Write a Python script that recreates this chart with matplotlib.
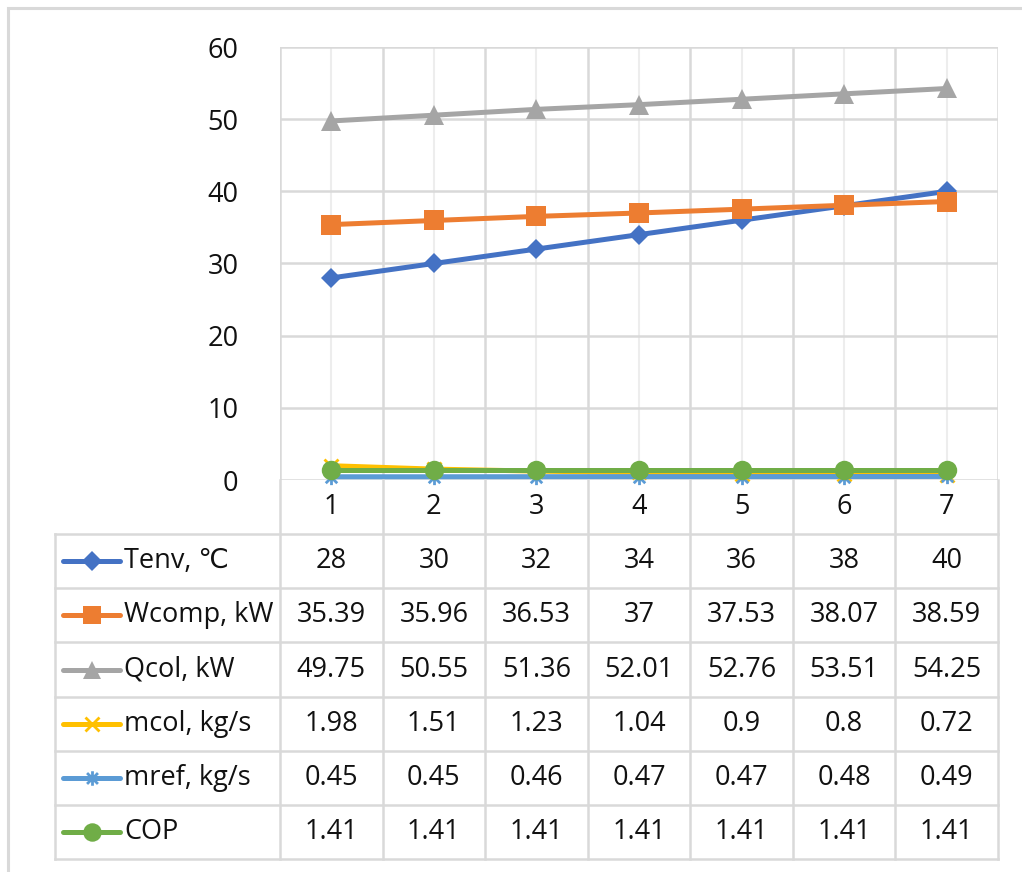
import matplotlib
matplotlib.use("Agg")
import matplotlib.pyplot as plt
from matplotlib.lines import Line2D
from matplotlib.patches import Rectangle
from matplotlib.path import Path

plt.rcParams['font.family'] = ['Open Sans', 'DejaVu Sans']

# данные
cases = [1, 2, 3, 4, 5, 6, 7]
Tenv = [28, 30, 32, 34, 36, 38, 40]
Wcomp = [35.39, 35.96, 36.53, 37, 37.53, 38.07, 38.59]
Qcol = [49.75, 50.55, 51.36, 52.01, 52.76, 53.51, 54.25]
mcol = [1.98, 1.51, 1.23, 1.04, 0.9, 0.8, 0.72]
mref = [0.45, 0.45, 0.46, 0.47, 0.47, 0.48, 0.49]
COP = [1.41, 1.41, 1.41, 1.41, 1.41, 1.41, 1.41]
yticks = [0, 10, 20, 30, 40, 50, 60]

# звёздочка как в Excel: вертикаль + две диагонали
star = Path([(0, -1), (0, 1), (-0.75, -0.75), (0.75, 0.75), (-0.75, 0.75), (0.75, -0.75)],
            [Path.MOVETO, Path.LINETO] * 3)

series = [
    ("Tenv, ℃", Tenv, '#4472C4', 'D', 10.5),
    ("Wcomp, kW", Wcomp, '#ED7D31', 's', 14),
    ("Qcol, kW", Qcol, '#A5A5A5', '^', 14),
    ("mcol, kg/s", mcol, '#FFC000', 'x', 10),
    ("mref, kg/s", mref, '#5B9BD5', star, 11),
    ("COP", COP, '#70AD47', 'o', 14),
]
thin_markers = (3, 4)

W, H = 1022, 872
grid_c = '#d9d9d9'
minor_c = '#ededed'
txt_c = '#111111'
fs = 19.5

fig = plt.figure(figsize=(W / 100, H / 100), dpi=100)

# рамка области диаграммы
fig.add_artist(Rectangle((8 / W, -0.2), 1.2, 1 - 8 / H + 0.2, transform=fig.transFigure,
                         fill=False, ec=grid_c, lw=2.2))

# область построения
pl, pr, pt, pb = 280, 998, 47, 480
ax = fig.add_axes([pl / W, 1 - pb / H, (pr - pl) / W, (pb - pt) / H])
ax.set_xlim(0.5, len(cases) + 0.5)
ax.set_ylim(0, 60)
for s in ax.spines.values():
    s.set_visible(False)
ax.set_yticks(yticks)
ax.set_yticklabels([str(v) for v in yticks], fontsize=fs, color=txt_c)
ax.tick_params(axis='y', length=0, pad=30)
ax.set_xticks([])
for v in yticks:
    ax.axhline(v, color=grid_c, lw=1.8, zorder=1)
for c in cases:
    ax.axvline(c, color=minor_c, lw=1.5, zorder=0)
for c in range(len(cases) + 1):
    ax.axvline(c + 0.5, color=grid_c, lw=1.8, zorder=1)

for i, (name, vals, col, mk, ms) in enumerate(series):
    thin = i in thin_markers
    ax.plot(cases, vals, color=col, lw=3.6, marker=mk, ms=ms,
            mew=2.0 if thin else 0, mec=col, mfc=col, zorder=3 + i,
            clip_on=False)

# таблица данных под графиком
tl = 55
cw = (pr - pl) / len(cases)
x_left = 0.5 - (pl - tl) / cw
nrows = len(series) + 1
tb = 859
tax = fig.add_axes([tl / W, 1 - tb / H, (pr - tl) / W, (tb - pb) / H])
tax.set_xlim(x_left, len(cases) + 0.5)
tax.set_ylim(nrows, 0)
tax.axis('off')

for c in range(len(cases) + 1):
    tax.plot([c + 0.5, c + 0.5], [0, nrows], color=grid_c, lw=1.8, clip_on=False)
tax.plot([x_left, x_left], [1, nrows], color=grid_c, lw=1.8, clip_on=False)
for r in range(1, nrows + 1):
    tax.plot([x_left, len(cases) + 0.5], [r, r], color=grid_c, lw=1.8, clip_on=False)

for c in cases:
    tax.text(c, 0.5, str(c), ha='center', va='center', fontsize=fs, color=txt_c)

key0 = x_left + 8 / cw
key1 = x_left + 65 / cw
for r, (name, vals, col, mk, ms) in enumerate(series, start=1):
    y = r + 0.5
    thin = (r - 1) in thin_markers
    tax.add_line(Line2D([key0, key1], [y, y], color=col, lw=3.6, solid_capstyle='round'))
    tax.plot([(key0 + key1) / 2], [y], marker=mk, ms=ms * 0.95, color=col,
             mew=2.0 if thin else 0, mec=col)
    tax.text(key1 + 4 / cw, y, name, ha='left', va='center', fontsize=fs, color=txt_c)
    for c, v in zip(cases, vals):
        tax.text(c, y, f"{v:g}", ha='center', va='center', fontsize=fs, color=txt_c)

plt.savefig("out.png", dpi=100)
